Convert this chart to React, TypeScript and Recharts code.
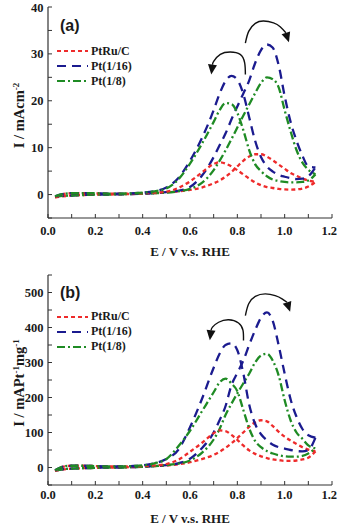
import React from "react";
import { LineChart, Line, XAxis, YAxis, Legend } from "recharts";

// potential grid shared by every scan (V vs RHE)
const scanE = [
  0.03, 0.06, 0.1, 0.15, 0.2, 0.25, 0.3, 0.35, 0.4, 0.45, 0.5, 0.55, 0.6, 0.65, 0.7, 0.725,
  0.75, 0.775, 0.8, 0.825, 0.85, 0.875, 0.9, 0.925, 0.95, 0.975, 1.0, 1.025, 1.05, 1.075, 1.1, 1.13,
];

// panel (a): mA cm-2
const ptRuFwdA = [-0.6, -0.4, -0.2, -0.1, 0, 0, 0.05, 0.1, 0.2, 0.3, 0.5, 0.7, 1.0, 1.5, 2.4, 3.0, 3.8, 4.8, 6.0, 7.2, 8.1, 8.6, 8.6, 8.1, 7.3, 6.4, 5.5, 4.6, 4.0, 3.4, 3.0, 2.7];
const ptRuBwdA = [-0.6, 0, 0.3, 0.3, 0.25, 0.2, 0.2, 0.2, 0.3, 0.4, 0.6, 1.4, 2.8, 4.7, 6.5, 6.9, 6.6, 6.0, 5.2, 4.3, 3.4, 2.6, 2.0, 1.6, 1.4, 1.2, 1.1, 1.05, 1.1, 1.3, 1.7, 2.7];
const pt16FwdA = [-0.4, -0.3, -0.2, -0.1, 0, 0, 0.05, 0.1, 0.2, 0.3, 0.5, 0.8, 1.6, 4.0, 8.0, 10.5, 13.0, 16.0, 18.8, 21.5, 24.3, 28.0, 30.8, 32.0, 31.3, 27.5, 21.0, 15.5, 11.5, 8.3, 6.0, 5.8];
const pt16BwdA = [-0.4, 0.1, 0.3, 0.3, 0.3, 0.2, 0.2, 0.25, 0.4, 0.7, 1.5, 3.5, 7.2, 12.0, 18.0, 21.5, 24.2, 25.3, 24.5, 21.5, 16.5, 11.5, 8.0, 6.0, 4.9, 4.2, 3.8, 3.5, 3.3, 3.4, 3.9, 5.8];
const pt8FwdA = [-0.4, -0.3, -0.2, -0.1, 0, 0, 0.05, 0.1, 0.2, 0.3, 0.4, 0.7, 1.2, 2.5, 5.2, 7.2, 9.4, 11.8, 14.3, 16.8, 19.2, 21.6, 23.8, 25.0, 24.6, 22.8, 18.0, 13.5, 9.5, 6.8, 5.3, 4.3];
const pt8BwdA = [-0.4, 0.1, 0.3, 0.3, 0.3, 0.2, 0.2, 0.25, 0.4, 0.7, 1.3, 3.2, 6.6, 10.8, 15.5, 18.0, 19.5, 19.3, 17.4, 13.8, 9.5, 6.5, 5.0, 3.9, 3.2, 2.9, 2.7, 2.6, 2.6, 2.7, 3.0, 4.3];

// panel (b): mA Pt-1 mg-1
const ptRuFwdB = [-10, -6, -3, -2, -1, 0, 0, 1, 2, 4, 6, 9, 15, 24, 36, 45, 56, 69, 84, 100, 116, 129, 135, 132, 118, 102, 88, 77, 67, 58, 51, 46];
const ptRuBwdB = [-10, 2, 5, 5, 4, 3, 3, 3, 4, 6, 10, 22, 45, 70, 98, 106, 104, 93, 79, 63, 49, 39, 32, 27, 23, 21, 19, 19, 20, 23, 28, 46];
const pt16FwdB = [-8, -5, -3, -2, -1, 0, 0, 1, 2, 4, 7, 12, 25, 55, 100, 135, 175, 235, 270, 305, 350, 392, 428, 443, 418, 348, 268, 195, 145, 110, 92, 85];
const pt16BwdB = [-8, 2, 5, 5, 4, 3, 3, 4, 6, 12, 24, 50, 115, 195, 285, 325, 350, 355, 335, 270, 180, 125, 95, 78, 65, 58, 54, 50, 47, 46, 50, 85];
const pt8FwdB = [-8, -5, -3, -2, -1, 0, 0, 1, 2, 4, 7, 11, 20, 42, 80, 110, 150, 182, 212, 240, 268, 300, 320, 325, 305, 262, 192, 135, 100, 82, 63, 55];
const pt8BwdB = [-8, 2, 5, 5, 4, 3, 3, 4, 6, 12, 24, 60, 105, 160, 215, 243, 254, 240, 218, 165, 112, 76, 58, 47, 40, 35, 32, 31, 31, 33, 40, 55];

// curved scan-direction arrows (data coordinates)
const arrowFwdA_E = [0.834, 0.848, 0.876, 0.911, 0.953, 0.981, 1.005];
const arrowFwdA_I = [32.3, 34.8, 36.5, 37.0, 36.6, 35.8, 34.5];
const arrowBwdA_E = [0.834, 0.831, 0.812, 0.77, 0.728, 0.70, 0.695];
const arrowBwdA_I = [25.6, 28.1, 29.9, 30.4, 29.9, 28.4, 27.7];
const arrowFwdB_E = [0.834, 0.848, 0.876, 0.918, 0.96, 0.989, 1.01];
const arrowFwdB_I = [434, 468, 489, 496, 491, 482, 472];
const arrowBwdB_E = [0.826, 0.824, 0.805, 0.763, 0.721, 0.695, 0.689];
const arrowBwdB_I = [363, 392, 413, 422, 415, 401, 392];

// ticks
const xTicks = [0, 0.1, 0.2, 0.3, 0.4, 0.5, 0.6, 0.7, 0.8, 0.9, 1.0, 1.1, 1.2];
const yTicksA = [-5, 0, 5, 10, 15, 20, 25, 30, 35, 40];
const yTicksB = [-50, 0, 50, 100, 150, 200, 250, 300, 350, 400, 450, 500, 550];

const RED = "#ee2b2b";
const BLUE = "#1b1b8f";
const GREEN = "#1f8b24";
const INK = "#1a1a1a";
const FRAME = "#333";
const SERIF = "Liberation Serif, Times New Roman, serif";
const SANS = "Liberation Sans, Arial, sans-serif";

const seriesStyle = [
  { name: "PtRu/C", color: RED, dash: "4 3" },
  { name: "Pt(1/16)", color: BLUE, dash: "9 6" },
  { name: "Pt(1/8)", color: GREEN, dash: "8 3 2 3" },
];

const toPoints = (es: number[], is: number[]) => es.map((e, k) => ({ e, i: is[k] }));

const arrowHead = (angle: number, last: number) => (p: any) => {
  if (p.index !== last || p.cx == null) return <g key={`ah-${p.index}`} />;
  const t = (angle * Math.PI) / 180;
  const L = 10;
  const W = 4.5;
  const tx = p.cx + L * Math.cos(t);
  const ty = p.cy + L * Math.sin(t);
  const ax = p.cx - W * Math.sin(t);
  const ay = p.cy + W * Math.cos(t);
  const bx = p.cx + W * Math.sin(t);
  const by = p.cy - W * Math.cos(t);
  return <path key={`ah-${p.index}`} d={`M${ax},${ay}L${tx},${ty}L${bx},${by}Z`} fill="#111" />;
};

const legendContent = (props: any) => {
  const names = (props.payload || []).map((entry: any) => entry.value);
  const items = seriesStyle.filter((s) => names.includes(s.name));
  return (
    <div style={{ fontFamily: SERIF, fontWeight: "bold", fontSize: 12, color: INK }}>
      {items.map((s) => (
        <div key={s.name} style={{ display: "flex", alignItems: "center", height: 15.2 }}>
          <svg width={31} height={6}>
            <line x1={0} y1={3} x2={31} y2={3} stroke={s.color} strokeWidth={2.2} strokeDasharray={s.dash} />
          </svg>
          <span style={{ marginLeft: 3, lineHeight: "15px" }}>{s.name}</span>
        </div>
      ))}
    </div>
  );
};

interface PanelProps {
  tag: string;
  yDomain: [number, number];
  yTicks: number[];
  yStep: number;
  fwd: number[][];
  bwd: number[][];
  arrows: { e: number[]; i: number[]; angle: number }[];
  yTitle: React.ReactNode;
  marginTop: number;
  xAxisHeight: number;
  xTickMargin: number;
  legendTop: number;
  tagTop: number;
}

const Panel = (p: PanelProps) => {
  const tickFont = { fontFamily: SERIF, fontWeight: "bold" as const, fontSize: 12.5, fill: INK };
  const yTitleLabel = (lp: any) => {
    const vb = lp.viewBox || { y: 0, height: 0 };
    const cx = 24;
    const cy = vb.y + vb.height / 2 + 3;
    return (
      <text
        x={cx}
        y={cy}
        transform={`rotate(-90 ${cx} ${cy})`}
        textAnchor="middle"
        fontFamily={SERIF}
        fontWeight="bold"
        fontSize={14.5}
        fill={INK}
      >
        {p.yTitle}
      </text>
    );
  };
  const xTitleLabel = (lp: any) => {
    const vb = lp.viewBox || { x: 0, y: 0, width: 0 };
    return (
      <text
        x={vb.x + vb.width / 2}
        y={vb.y + 38}
        textAnchor="middle"
        fontFamily={SERIF}
        fontWeight="bold"
        fontSize={13}
        fill={INK}
      >
        E / V v.s. RHE
      </text>
    );
  };

  return (
    <div style={{ position: "relative", width: 337, height: 263 }}>
      <LineChart width={337} height={263} margin={{ top: p.marginTop, right: 5, bottom: 0, left: 0 }}>
        <XAxis
          dataKey="e"
          type="number"
          domain={[0, 1.2]}
          ticks={xTicks}
          allowDataOverflow
          height={p.xAxisHeight}
          tickSize={-4}
          tickMargin={p.xTickMargin}
          tick={tickFont}
          tickFormatter={(v: number) => (Math.round(v * 10) % 2 === 0 ? v.toFixed(1) : "")}
          axisLine={{ stroke: FRAME, strokeWidth: 1.2 }}
          tickLine={{ stroke: FRAME }}
          label={xTitleLabel}
        />
        <XAxis
          xAxisId="top"
          orientation="top"
          type="number"
          domain={[0, 1.2]}
          ticks={xTicks}
          allowDataOverflow
          height={0}
          tickSize={-4}
          tickFormatter={() => ""}
          axisLine={{ stroke: FRAME, strokeWidth: 1.2 }}
          tickLine={{ stroke: FRAME }}
        />
        <YAxis
          type="number"
          domain={p.yDomain}
          ticks={p.yTicks}
          allowDataOverflow
          width={48}
          tickSize={-4}
          tickMargin={8.5}
          tick={tickFont}
          tickFormatter={(v: number) => (v >= 0 && v % p.yStep === 0 ? String(v) : "")}
          axisLine={{ stroke: FRAME, strokeWidth: 1.2 }}
          tickLine={{ stroke: FRAME }}
          label={yTitleLabel}
        />
        <YAxis
          yAxisId="right"
          orientation="right"
          type="number"
          domain={p.yDomain}
          ticks={p.yTicks}
          allowDataOverflow
          width={0}
          tickSize={-4}
          tickFormatter={() => ""}
          axisLine={{ stroke: FRAME, strokeWidth: 1.2 }}
          tickLine={{ stroke: FRAME }}
        />
        <Legend
          layout="vertical"
          align="center"
          verticalAlign="middle"
          width={110}
          height={48}
          wrapperStyle={{ left: 57, top: p.legendTop }}
          content={legendContent}
        />
        {seriesStyle.map((s, k) => (
          <Line
            key={`f-${s.name}`}
            name={s.name}
            data={toPoints(scanE, p.fwd[k])}
            dataKey="i"
            type="monotone"
            stroke={s.color}
            strokeWidth={2.3}
            strokeDasharray={s.dash}
            dot={false}
            activeDot={false}
            isAnimationActive={false}
          />
        ))}
        {seriesStyle.map((s, k) => (
          <Line
            key={`b-${s.name}`}
            name={`${s.name} reverse`}
            legendType="none"
            data={toPoints(scanE, p.bwd[k])}
            dataKey="i"
            type="monotone"
            stroke={s.color}
            strokeWidth={2.3}
            strokeDasharray={s.dash}
            dot={false}
            activeDot={false}
            isAnimationActive={false}
          />
        ))}
        {p.arrows.map((a, k) => (
          <Line
            key={`arrow-${k}`}
            name={`arrow-${k}`}
            legendType="none"
            data={toPoints(a.e, a.i)}
            dataKey="i"
            type="natural"
            stroke="#111"
            strokeWidth={1.4}
            dot={arrowHead(a.angle, a.e.length - 1)}
            activeDot={false}
            isAnimationActive={false}
          />
        ))}
      </LineChart>
      <div
        style={{
          position: "absolute",
          left: 60,
          top: p.tagTop,
          fontFamily: SANS,
          fontWeight: "bold",
          fontSize: 16,
          color: INK,
          lineHeight: "18px",
        }}
      >
        {p.tag}
      </div>
    </div>
  );
};

export default function App() {
  return (
    <div style={{ position: "absolute", left: 0, top: 0, width: 337, height: 526, background: "#fff" }}>
      <Panel
        tag="(a)"
        yDomain={[-5, 40]}
        yTicks={yTicksA}
        yStep={10}
        fwd={[ptRuFwdA, pt16FwdA, pt8FwdA]}
        bwd={[ptRuBwdA, pt16BwdA, pt8BwdA]}
        arrows={[
          { e: arrowFwdA_E, i: arrowFwdA_I, angle: 72 },
          { e: arrowBwdA_E, i: arrowBwdA_I, angle: 97 },
        ]}
        yTitle={
          <>
            <tspan>I / mAcm</tspan>
            <tspan dy={-5} fontSize={9}>-2</tspan>
          </>
        }
        marginTop={7}
        xAxisHeight={45}
        xTickMargin={12}
        legendTop={43.5}
        tagTop={17}
      />
      <Panel
        tag="(b)"
        yDomain={[-50, 550]}
        yTicks={yTicksB}
        yStep={100}
        fwd={[ptRuFwdB, pt16FwdB, pt8FwdB]}
        bwd={[ptRuBwdB, pt16BwdB, pt8BwdB]}
        arrows={[
          { e: arrowFwdB_E, i: arrowFwdB_I, angle: 72 },
          { e: arrowBwdB_E, i: arrowBwdB_I, angle: 97 },
        ]}
        yTitle={
          <>
            <tspan>I / mAPt</tspan>
            <tspan dy={-5} fontSize={9}>-1</tspan>
            <tspan dy={5}>mg</tspan>
            <tspan dy={-5} fontSize={9}>-1</tspan>
          </>
        }
        marginTop={12}
        xAxisHeight={41}
        xTickMargin={9}
        legendTop={46}
        tagTop={20.5}
      />
    </div>
  );
}
